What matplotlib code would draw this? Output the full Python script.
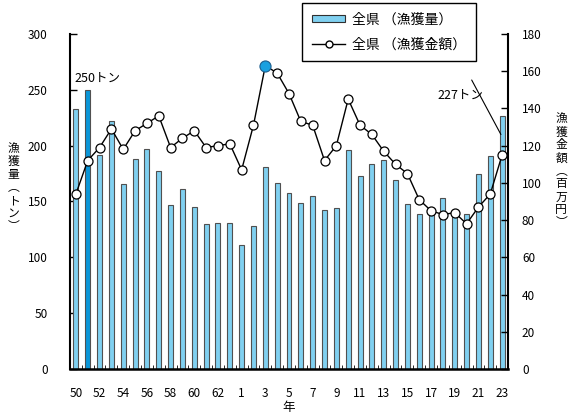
import numpy as np
import matplotlib
matplotlib.use("Agg")
import matplotlib.pyplot as plt
from matplotlib.patches import Patch
from matplotlib.lines import Line2D

plt.rcParams['font.family'] = ['Noto Sans CJK JP', 'DejaVu Sans']

# years: Showa 50-63, Heisei 1-23
years = [str(y) for y in range(50, 64)] + [str(y) for y in range(1, 24)]

# catch (tons), left axis
catch = [233, 250, 192, 222, 166, 188, 197, 177, 147, 161, 145, 130, 131, 131,
         111, 128, 181, 167, 158, 149, 155, 142, 144, 196, 173, 184, 187, 169,
         148, 139, 139, 153, 138, 139, 175, 191, 227]

# catch value (million yen), right axis
value = [94, 112, 119, 129, 118, 128, 132, 136, 119, 124, 128, 119, 120, 121,
         107, 131, 163, 159, 148, 133, 131, 112, 120, 145, 131, 126, 117, 110,
         105, 91, 85, 83, 84, 78, 87, 94, 115]

bar_hl = 1     # S51: max catch
line_hl = 16   # H3: max value

x = np.arange(len(years))

fig = plt.figure(figsize=(5.68, 4.17), dpi=100)
ax = fig.add_axes([0.1232, 0.1151, 0.7712, 0.8034])

colors = ['#80d0f0'] * len(years)
colors[bar_hl] = '#0a96d8'
ax.bar(x, catch, width=0.42, color=colors, edgecolor='#505050', linewidth=0.8, zorder=2)

ax.set_xlim(-0.5, len(years) - 0.5)
ax.set_ylim(0, 300)
ax.set_yticks(range(0, 301, 50))
ax.set_xticks(x[::2])
ax.set_xticklabels(years[::2])
ax.set_xticks(np.arange(-0.5, len(years), 1), minor=True)
ax.tick_params(axis='x', which='major', length=0, pad=13, labelsize=8.5)
ax.tick_params(axis='x', which='minor', direction='in', length=3, width=0.6)
ax.tick_params(axis='y', direction='in', length=5, width=1, pad=16, labelsize=8.5)
for s in ['top', 'right']:
    ax.spines[s].set_visible(False)
ax.spines['left'].set_linewidth(1.5)
ax.spines['bottom'].set_linewidth(1.8)

ax2 = ax.twinx()
ax2.plot(x, value, color='black', lw=1, marker='o', ms=6.5,
         mfc='white', mec='black', mew=0.9, zorder=3)
ax2.plot(x[line_hl], value[line_hl], marker='o', ms=8, mfc='#1aa0e0',
         mec='#1f5f8f', mew=0.8, zorder=4)
ax2.set_ylim(0, 180)
ax2.set_yticks(range(0, 181, 20))
ax2.tick_params(axis='y', direction='in', length=5, width=1, pad=10, labelsize=8.5)
for s in ['top', 'left', 'bottom']:
    ax2.spines[s].set_visible(False)
ax2.spines['right'].set_linewidth(1.5)

# annotations
ax.text(x[0] - 0.1, 260, '250トン', fontsize=9, ha='left', va='center')
ax.annotate('227トン', xy=(x[-1] - 0.1, 210), xytext=(x[-1] - 1.6, 239),
            fontsize=9, ha='right', va='bottom',
            arrowprops=dict(arrowstyle='-', color='black', lw=0.8,
                            shrinkA=0, shrinkB=0,
                            relpos=(0.75, 1.7)))

# axis titles (vertical writing)
fig.text(0.024, 0.55, '漁\n獲\n量\n︵\nト\nン\n︶', fontsize=8.5, ha='center', va='center',
         linespacing=1.0)
fig.text(0.988, 0.59, '漁\n獲\n金\n額\n︵\n百\n万\n円\n︶', fontsize=8.5, ha='center', va='center',
         linespacing=1.0)
fig.text(0.509, 0.022, '年', fontsize=9, ha='center', va='center')

handles = [Patch(facecolor='#80d0f0', edgecolor='#303030', linewidth=0.8),
           Line2D([0], [0], color='black', lw=1, marker='o', ms=5,
                  mfc='white', mec='black')]
leg = fig.legend(handles, ['全県 （漁獲量）', '全県 （漁獲金額）'],
                 loc='upper left', bbox_to_anchor=(0.532, 0.993), borderaxespad=0,
                 fancybox=False, edgecolor='black', framealpha=1,
                 fontsize=10, handlelength=2.4, handleheight=0.45,
                 borderpad=0.7, labelspacing=0.8, handletextpad=0.5)
leg.get_frame().set_linewidth(1.0)

fig.savefig('out.png', dpi=100)
